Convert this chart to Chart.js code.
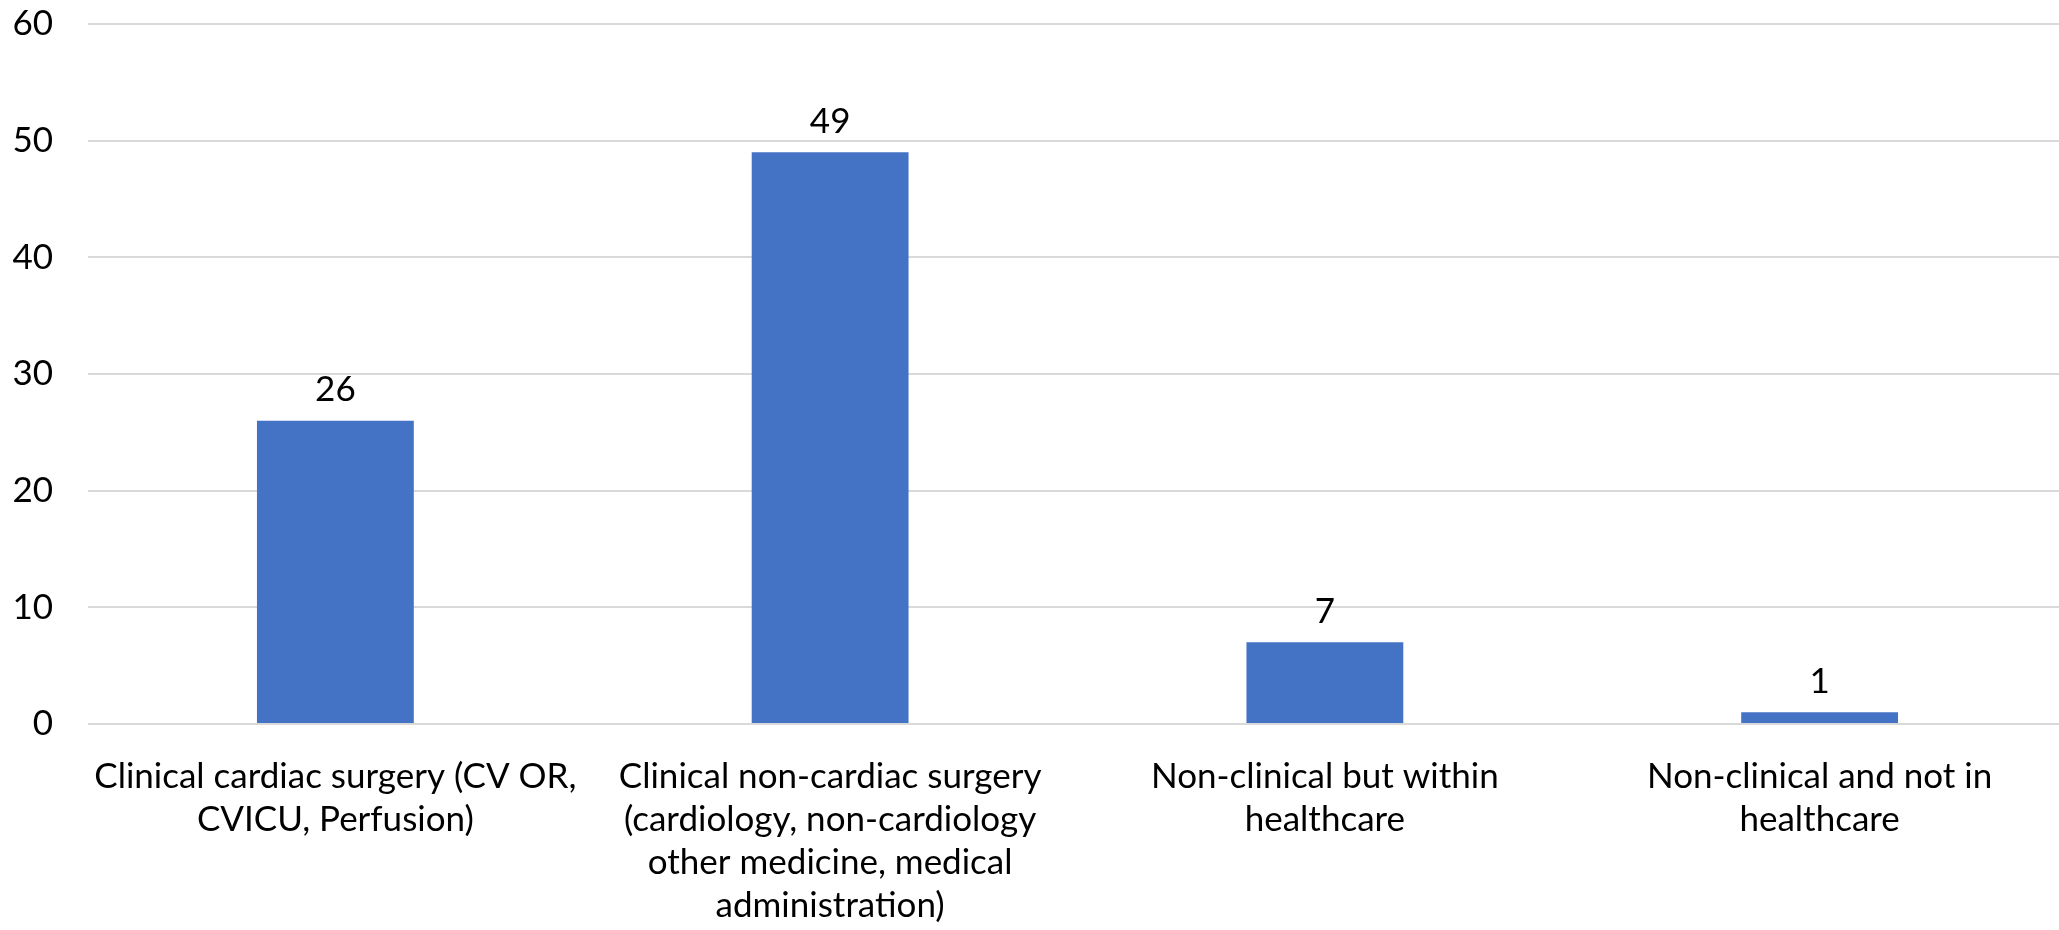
<!DOCTYPE html>
<html>
<head>
<meta charset="utf-8">
<script src="https://cdn.jsdelivr.net/npm/chart.js@4"></script>
<style>
  html, body { margin: 0; padding: 0; background: #fff; overflow: hidden; }
  #wrap { width: 2067px; height: 930px; }
</style>
</head>
<body>
<div id="wrap"><canvas id="grafico" width="2067" height="930"></canvas></div>
<script>
// categorias (cada una partida en lineas como en la imagen)
const categorias = [
  ['Clinical cardiac surgery (CV OR,', 'CVICU, Perfusion)'],
  ['Clinical non-cardiac surgery', '(cardiology, non-cardiology', 'other medicine, medical', 'administration)'],
  ['Non-clinical but within', 'healthcare'],
  ['Non-clinical and not in', 'healthcare']
]
const valores = [26, 49, 7, 1]
const ticksY = [0, 10, 20, 30, 40, 50, 60]

const fuente = 'Lato, "Open Sans", sans-serif'

// etiquetas encima de cada barra
const etiquetasBarras = {
  id: 'etiquetasBarras',
  afterDatasetsDraw(chart) {
    const ctx = chart.ctx
    const meta = chart.getDatasetMeta(0)
    ctx.save()
    ctx.font = '35px ' + fuente
    ctx.fillStyle = '#000'
    ctx.textAlign = 'center'
    ctx.textBaseline = 'middle'
    meta.data.forEach((bar, i) => {
      ctx.fillText(String(valores[i]), bar.x, bar.y - 31)
    })
    ctx.restore()
  }
}

new Chart(document.getElementById('grafico'), {
  type: 'bar',
  data: {
    labels: categorias,
    datasets: [{
      data: valores,
      backgroundColor: '#4472C4',
      categoryPercentage: 1,
      barPercentage: 0.317
    }]
  },
  options: {
    responsive: false,
    devicePixelRatio: 1,
    animation: false,
    layout: { padding: { top: 24, left: 0, right: 0, bottom: 0 } },
    scales: {
      y: {
        min: 0,
        max: 60,
        afterBuildTicks: (s) => { s.ticks = ticksY.map(v => ({ value: v })) },
        afterFit: (s) => { s.width = 88 },
        border: { display: false },
        // el espacio entre numeros y grilla va como tick invisible
        grid: { color: '#d9d9d9', lineWidth: 2, drawTicks: true, tickLength: 35, tickColor: 'rgba(0,0,0,0)' },
        ticks: {
          padding: 0,
          color: '#000',
          font: { family: fuente, size: 35 }
        }
      },
      x: {
        afterFit: (s) => { s.height = 206 },
        border: { display: false },
        grid: { display: false, drawTicks: false },
        ticks: {
          autoSkip: false,
          maxRotation: 0,
          minRotation: 0,
          padding: 31,
          color: '#000',
          font: { family: fuente, size: 35, lineHeight: 1.23 }
        }
      }
    },
    plugins: {
      legend: { display: false },
      tooltip: { enabled: false }
    }
  },
  plugins: [etiquetasBarras]
})
</script>
</body>
</html>
